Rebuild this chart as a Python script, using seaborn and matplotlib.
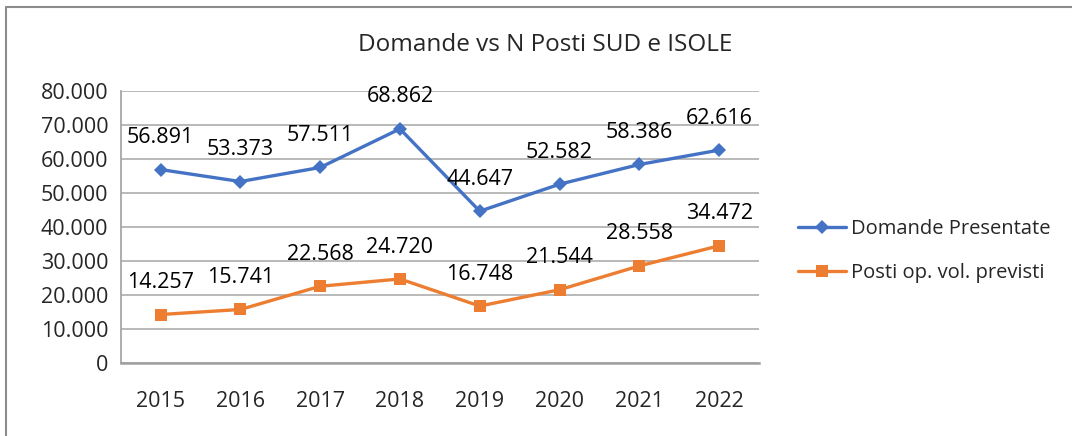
import matplotlib
matplotlib.use("Agg")
import matplotlib.pyplot as plt
import seaborn as sns
import pandas as pd
from matplotlib.ticker import FuncFormatter
from matplotlib.lines import Line2D

# dati
anni = ["2015", "2016", "2017", "2018", "2019", "2020", "2021", "2022"]
domande = [56891, 53373, 57511, 68862, 44647, 52582, 58386, 62616]
posti = [14257, 15741, 22568, 24720, 16748, 21544, 28558, 34472]
serie = ["Domande Presentate", "Posti op. vol. previsti"]

df = pd.DataFrame({
    "Anno": anni * 2,
    "Valore": domande + posti,
    "Serie": [serie[0]] * len(anni) + [serie[1]] * len(anni),
})
df["pos"] = list(range(len(anni))) * 2

sns.set_style("white")
plt.rcParams["font.family"] = ["Open Sans", "DejaVu Sans"]

colori = {serie[0]: "#4472C4", serie[1]: "#ED7D31"}
marker = {serie[0]: "D", serie[1]: "s"}
msize = {serie[0]: 7, serie[1]: 9}

fig = plt.figure(figsize=(10.72, 4.36), dpi=100)
ax = fig.add_axes([120.7 / 1072, 73 / 436, 638.3 / 1072, 272 / 436])

for s in serie:
    sub = df[df["Serie"] == s]
    sns.lineplot(data=sub, x="pos", y="Valore", ax=ax, color=colori[s],
                 linewidth=2.4, marker=marker[s], markersize=msize[s],
                 markeredgewidth=0, legend=False)
    for x, y in zip(sub["pos"], sub["Valore"]):
        ax.annotate(f"{y:,}".replace(",", "."), (x, y), xytext=(0, 23),
                    textcoords="offset points", ha="center", va="center",
                    fontsize=15.5, color="#000000")

ax.set_xlim(-0.5, len(anni) - 0.5)
ax.set_ylim(0, 80000)
ax.set_yticks(range(0, 80001, 10000))
ax.yaxis.set_major_formatter(FuncFormatter(lambda v, p: f"{int(v):,}".replace(",", ".")))
ax.set_xticks(range(len(anni)))
ax.set_xticklabels(anni)
ax.set_xticks([i - 0.5 for i in range(len(anni) + 1)], minor=True)
ax.tick_params(axis="x", which="major", length=0, pad=20, labelsize=15.5)
ax.tick_params(axis="x", which="minor", length=6, width=1.2, color="#A0A0A0", direction="out")
ax.tick_params(axis="y", length=6, width=1.2, color="#A0A0A0", labelsize=15.5, pad=3)
ax.set_xlabel("")
ax.set_ylabel("")

ax.grid(axis="y", color="#A6A6A6", linewidth=1.1)
ax.set_axisbelow(True)
for side in ["top", "right"]:
    ax.spines[side].set_visible(False)
ax.spines["left"].set_color("#A0A0A0")
ax.spines["left"].set_linewidth(1.2)
ax.spines["bottom"].set_color("#A0A0A0")
ax.spines["bottom"].set_linewidth(1.8)

handles = [Line2D([0], [0], color=colori[s], linewidth=2.4, marker=marker[s],
                  markersize=msize[s], markeredgewidth=0) for s in serie]
fig.legend(handles, serie, loc="center left", bbox_to_anchor=(790 / 1072, 1 - 251 / 436),
           frameon=False, fontsize=14.5, handlelength=2.4, handletextpad=0.25,
           labelspacing=1.2, borderaxespad=0)

fig.text(545 / 1072, 1 - 45 / 436, "Domande vs N Posti SUD e ISOLE",
         ha="center", va="center", fontsize=17.5)

# cornice esterna (solo sopra e a sinistra visibili)
fig.add_artist(Line2D([6 / 1072, 1], [1 - 7 / 436, 1 - 7 / 436], color="#8C8C8C",
                      linewidth=1.5, transform=fig.transFigure))
fig.add_artist(Line2D([6 / 1072, 6 / 1072], [0, 1 - 7 / 436], color="#8C8C8C",
                      linewidth=1.5, transform=fig.transFigure))

fig.savefig("out.png", dpi=100)
